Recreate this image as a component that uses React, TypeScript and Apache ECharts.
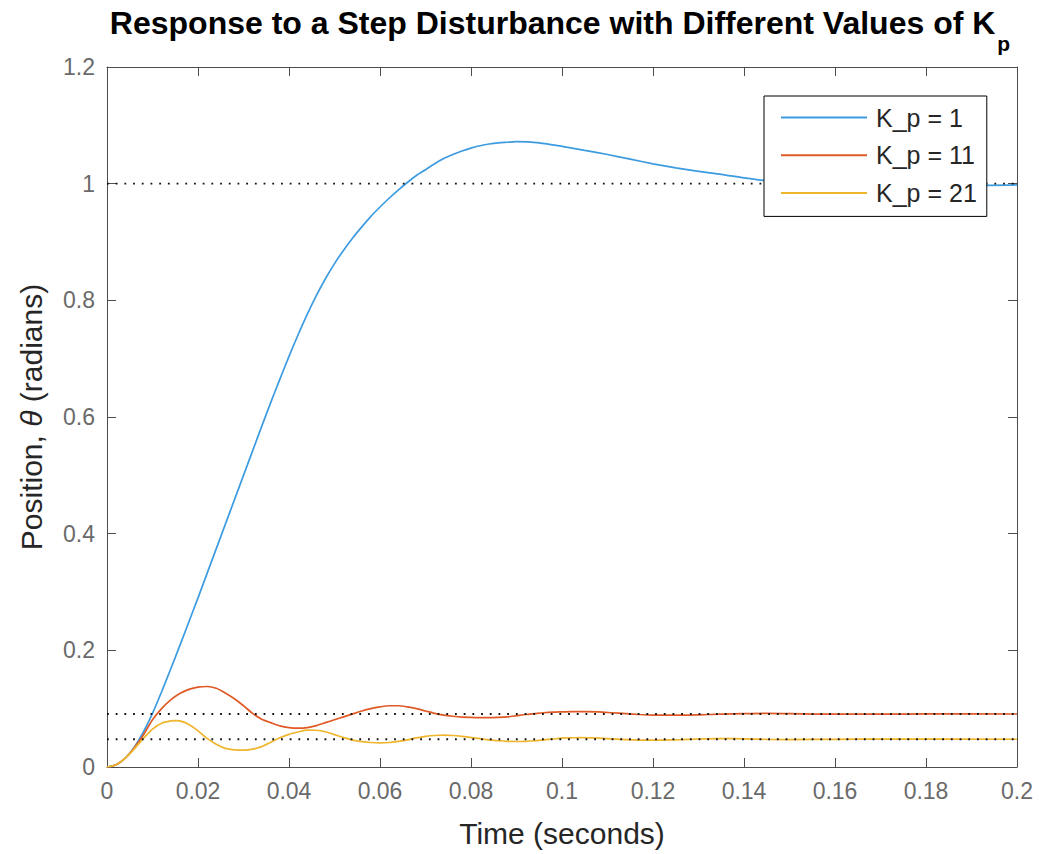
import React, { useEffect, useRef } from "react";
import * as echarts from "echarts";

// Step-disturbance responses, [time (s), position (rad)]
const responseKp1: [number, number][] = [
  [0, 0], [0.002, 0.004], [0.004, 0.015], [0.006, 0.034], [0.008, 0.06], [0.01, 0.092],
  [0.012, 0.129], [0.014, 0.168], [0.016, 0.208], [0.018, 0.249], [0.02, 0.29], [0.022, 0.332],
  [0.024, 0.374], [0.026, 0.416], [0.028, 0.458], [0.03, 0.5], [0.032, 0.542], [0.034, 0.584],
  [0.036, 0.625], [0.038, 0.665], [0.04, 0.704], [0.042, 0.741], [0.044, 0.776], [0.046, 0.808],
  [0.048, 0.837], [0.05, 0.863], [0.052, 0.886], [0.054, 0.907], [0.056, 0.926], [0.058, 0.944],
  [0.06, 0.96], [0.062, 0.975], [0.064, 0.989], [0.066, 1.002], [0.068, 1.014], [0.07, 1.024],
  [0.072, 1.034], [0.074, 1.043], [0.076, 1.05], [0.078, 1.056], [0.08, 1.061], [0.082, 1.065],
  [0.084, 1.068], [0.086, 1.07], [0.088, 1.071], [0.09, 1.072], [0.095, 1.07], [0.1, 1.064],
  [0.105, 1.057], [0.11, 1.05], [0.115, 1.042], [0.12, 1.034], [0.125, 1.027], [0.13, 1.021],
  [0.135, 1.016], [0.14, 1.01], [0.145, 1.005], [0.15, 1.002], [0.155, 1.0], [0.16, 0.998],
  [0.17, 0.997], [0.18, 0.997], [0.19, 0.997], [0.2, 0.998],
];

const responseKp11: [number, number][] = [
  [0, 0], [0.002, 0.004], [0.004, 0.015], [0.006, 0.033], [0.008, 0.055], [0.01, 0.081],
  [0.012, 0.1], [0.014, 0.115], [0.016, 0.126], [0.018, 0.133], [0.02, 0.137], [0.022, 0.138],
  [0.024, 0.135], [0.026, 0.127], [0.028, 0.117], [0.03, 0.105], [0.032, 0.092], [0.034, 0.082],
  [0.036, 0.076], [0.038, 0.0705], [0.04, 0.0675], [0.042, 0.0665], [0.044, 0.0675], [0.046, 0.071],
  [0.048, 0.076], [0.05, 0.081], [0.052, 0.086], [0.054, 0.091], [0.056, 0.096], [0.058, 0.1],
  [0.06, 0.103], [0.062, 0.105], [0.064, 0.105], [0.066, 0.103], [0.068, 0.1], [0.07, 0.096],
  [0.072, 0.092], [0.074, 0.089], [0.076, 0.087], [0.078, 0.0855], [0.08, 0.085], [0.082, 0.0846],
  [0.084, 0.0845], [0.086, 0.085], [0.088, 0.086], [0.09, 0.088], [0.092, 0.09], [0.094, 0.0915],
  [0.096, 0.093], [0.098, 0.094], [0.1, 0.0945], [0.102, 0.095], [0.105, 0.095], [0.108, 0.0945],
  [0.111, 0.093], [0.114, 0.0915], [0.117, 0.09], [0.12, 0.089], [0.125, 0.0888], [0.13, 0.0895],
  [0.135, 0.0905], [0.14, 0.0915], [0.145, 0.092], [0.15, 0.0915], [0.16, 0.0905], [0.17, 0.0905],
  [0.18, 0.091], [0.2, 0.0909],
];

const responseKp21: [number, number][] = [
  [0, 0], [0.002, 0.004], [0.004, 0.015], [0.006, 0.031], [0.008, 0.049], [0.01, 0.065],
  [0.012, 0.075], [0.014, 0.079], [0.015, 0.0795], [0.016, 0.079], [0.018, 0.073], [0.02, 0.062],
  [0.022, 0.049], [0.024, 0.039], [0.026, 0.032], [0.028, 0.0295], [0.03, 0.029], [0.032, 0.0305],
  [0.034, 0.035], [0.036, 0.0425], [0.038, 0.05], [0.04, 0.056], [0.042, 0.06], [0.044, 0.0632],
  [0.046, 0.063], [0.048, 0.0605], [0.05, 0.0555], [0.052, 0.0505], [0.054, 0.046], [0.056, 0.0435],
  [0.058, 0.042], [0.06, 0.0415], [0.062, 0.042], [0.064, 0.044], [0.066, 0.0465], [0.068, 0.05],
  [0.07, 0.0525], [0.072, 0.054], [0.074, 0.0545], [0.076, 0.054], [0.078, 0.0525], [0.08, 0.0505],
  [0.082, 0.0485], [0.084, 0.0465], [0.086, 0.045], [0.088, 0.044], [0.09, 0.0437], [0.092, 0.044],
  [0.094, 0.045], [0.096, 0.0465], [0.098, 0.048], [0.1, 0.0495], [0.102, 0.05], [0.104, 0.0505],
  [0.106, 0.05], [0.108, 0.0495], [0.11, 0.0485], [0.114, 0.047], [0.118, 0.046], [0.122, 0.0462],
  [0.126, 0.047], [0.13, 0.048], [0.134, 0.0488], [0.138, 0.0485], [0.142, 0.0478], [0.15, 0.047],
  [0.16, 0.0475], [0.17, 0.0478], [0.2, 0.0476],
];

const seriesNames = ["K_p = 1", "K_p = 11", "K_p = 21"];
const seriesColors = ["#3d9be0", "#df5a26", "#efb52c"];
const steadyStateLevels = [1, 0.0909, 0.0476];
const timeRange = [0, 0.2];
const timeStep = 0.02;
const positionRange = [0, 1.2];
const positionStep = 0.2;

export default function App() {
  const ref = useRef<HTMLDivElement>(null);

  useEffect(() => {
    const chart = echarts.init(ref.current!, null, { renderer: "svg" });
    const font = "'Liberation Sans', Arial, Helvetica, sans-serif";
    const axisColor = "#4d4d4d";
    const labelColor = "#6a6a6a";
    const nameColor = "#262626";

    const baseX = {
      type: "value",
      min: timeRange[0],
      max: timeRange[1],
      interval: timeStep,
      splitLine: { show: false },
      axisLine: { show: true, onZero: false, lineStyle: { color: axisColor, width: 1 } },
      axisTick: { show: true, inside: true, length: 9, lineStyle: { color: axisColor, width: 1 } },
    };
    const baseY = {
      type: "value",
      min: positionRange[0],
      max: positionRange[1],
      interval: positionStep,
      splitLine: { show: false },
      axisLine: { show: true, onZero: false, lineStyle: { color: axisColor, width: 1 } },
      axisTick: { show: true, inside: true, length: 9, lineStyle: { color: axisColor, width: 1 } },
    };

    const curves = [responseKp1, responseKp11, responseKp21].map((data, i) => ({
      name: seriesNames[i],
      type: "line",
      data,
      symbol: "none",
      showSymbol: false,
      smooth: 0.25,
      lineStyle: { color: seriesColors[i], width: 1.7 },
      itemStyle: { color: seriesColors[i] },
      z: 2,
    }));

    const refs = steadyStateLevels.map((lvl, i) => ({
      name: "ref" + i,
      type: "line",
      data: [
        [timeRange[0], lvl],
        [timeRange[1], lvl],
      ],
      symbol: "none",
      silent: true,
      lineStyle: { color: "#111111", width: 1.8, type: [1.8, 6.9] },
      z: 3,
    }));

    chart.setOption({
      animation: false,
      backgroundColor: "#ffffff",
      grid: { left: 107, right: 22, top: 67, bottom: 87, containLabel: false },
      graphic: [
        {
          type: "text",
          x: 560,
          y: 6,
          style: {
            text: "Response to a Step Disturbance with Different Values of K{sub|p}",
            fill: "#000000",
            font: `bold 32px ${font}`,
            fontFamily: font,
            fontSize: 32,
            fontWeight: "bold",
            align: "center",
            textAlign: "center",
            verticalAlign: "top",
            textVerticalAlign: "top",
            lineHeight: 34,
            rich: {
              sub: {
                fontFamily: font,
                fontSize: 21,
                fontWeight: "bold",
                fill: "#000000",
                verticalAlign: "top",
                lineHeight: 21,
                padding: [27, 0, 0, 2],
              },
            },
          },
        },
      ],
      legend: {
        data: seriesNames,
        orient: "vertical",
        left: 764,
        top: 96,
        icon: "rect",
        backgroundColor: "#ffffff",
        borderColor: "#000000",
        borderWidth: 1,
        borderRadius: 0,
        padding: [9, 10, 11, 17],
        itemWidth: 86,
        itemHeight: 2,
        itemGap: 12.7,
        textStyle: {
          fontFamily: font,
          fontSize: 25,
          color: nameColor,
          lineHeight: 24,
          padding: [0, 0, 0, 4],
        },
      },
      xAxis: [
        {
          ...baseX,
          position: "bottom",
          axisLabel: { color: labelColor, fontSize: 23, fontFamily: font, margin: 12 },
          name: "Time (seconds)",
          nameLocation: "middle",
          nameGap: 51,
          nameTextStyle: { fontSize: 30, color: nameColor, fontFamily: font },
        },
        { ...baseX, position: "top", axisLabel: { show: false } },
      ],
      yAxis: [
        {
          ...baseY,
          position: "left",
          axisLabel: { color: labelColor, fontSize: 23, fontFamily: font, margin: 12 },
          name: "Position, {i|θ} (radians)",
          nameLocation: "middle",
          nameGap: 61,
          nameTextStyle: {
            fontSize: 30,
            color: nameColor,
            fontFamily: font,
            rich: { i: { fontSize: 30, fontStyle: "italic", color: nameColor, fontFamily: font } },
          },
        },
        { ...baseY, position: "right", axisLabel: { show: false } },
      ],
      series: [...curves, ...refs],
    });

    return () => chart.dispose();
  }, []);

  return (
    <div
      ref={ref}
      style={{ position: "fixed", left: 0, top: 0, width: 1039, height: 854, background: "#fff" }}
    />
  );
}
